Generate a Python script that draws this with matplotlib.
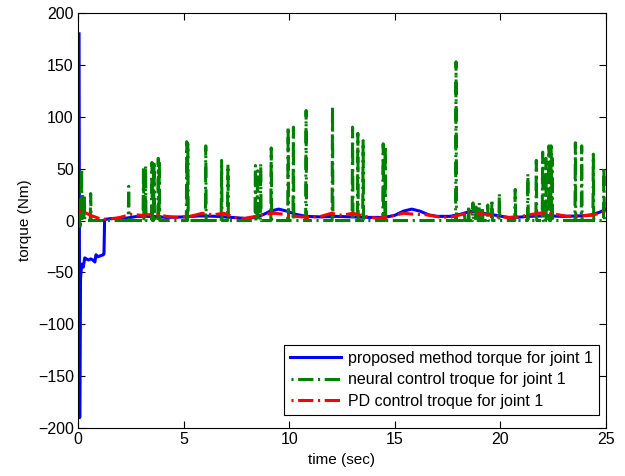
import numpy as np
import matplotlib
matplotlib.use("Agg")
import matplotlib.pyplot as plt

plt.rcParams['font.family'] = ['Liberation Sans', 'DejaVu Sans']

# proposed method torque (blue)
blue_t = [0.05, 0.08, 0.12, 0.18, 0.25, 0.32, 0.4, 0.5, 0.6, 0.7, 0.8, 0.85, 0.95,
          1.05, 1.2, 1.23, 1.26, 1.6, 2.2, 2.8, 3.5, 4.2, 5.0, 5.8, 6.6, 7.3,
          7.9, 8.4, 8.8, 9.1, 9.5, 9.9, 10.3, 10.8, 11.5, 12.2, 13.0, 13.8,
          14.5, 15.0, 15.4, 15.8, 16.2, 16.6, 17.0, 17.6, 18.1, 18.6, 19.2,
          19.8, 20.5, 21.3, 22.1, 23.0, 23.8, 24.3, 24.7, 25.0]
blue_v = [180, -190, -55, -42, -45, -36, -37, -38, -37, -38, -40, -33, -35,
          -34, -33, -32, 1, 2, 2, 4, 4, 3, 3.5, 4.5, 4, 3,
          2, 3, 6, 9, 11, 9, 6, 4, 3.5, 4, 3.5, 3,
          3, 5, 9, 11, 9, 5.5, 4, 4, 6, 9, 7,
          5, 2.5, 4, 4.5, 4, 4.5, 5.5, 8, 11]

# PD control torque (red)
pd_t = [0, 0.3, 0.6, 1.0, 1.4, 2.0, 2.5, 3.0, 3.6, 4.2, 4.7, 5.3, 5.9, 6.4,
        6.9, 7.4, 7.9, 8.4, 8.8, 9.3, 9.8, 10.3, 10.9, 11.5, 12.0, 12.5, 13.0,
        13.6, 14.2, 14.8, 15.4, 16.0, 16.5, 17.1, 17.6, 18.2, 18.7, 19.3,
        19.8, 20.4, 21.0, 21.5, 22.0, 22.6, 23.2, 23.8, 24.3, 24.7, 25.0]
pd_v = [9, 8, 5, 2, 1, 3, 6, 5, 6, 4, 3, 4, 7, 5.5,
        7, 3, 2, 4, 6, 7, 6, 4, 3, 4, 7, 5, 7,
        4, 2, 4, 7, 6, 5.5, 3.5, 3, 6, 7.5, 6,
        4, 3, 4, 6, 7.5, 6, 4, 4.5, 5, 7, 9]

# neural control torque (green): zero with short spikes
spike_t = [0.05, 0.1, 0.17, 0.22, 0.3, 0.6, 2.4, 3.1, 3.2, 3.5, 3.6, 3.8, 3.85,
           5.15, 5.2, 6.05, 6.8, 7.1, 8.4, 8.5, 8.65, 9.15, 9.95, 10.2, 10.8,
           12.05, 13.0, 13.25, 13.5, 14.45, 14.55, 17.9, 18.3, 18.5, 18.7,
           18.85, 19.0, 19.15, 19.4, 19.6, 19.95, 20.7, 21.3, 21.7, 22.0,
           22.15, 22.3, 22.4, 22.45, 23.55, 23.85, 24.4, 24.9]
spike_h = [20, -8, 50, 26, 25, 26, 33, 51, 53, 56, 57, 60, 58,
           76, 74, 72, 58, 54, 53, 48, 55, 70, 90, 90, 106,
           110, 90, 84, 77, 74, 72, 153, 8, 14, 17,
           13, 17, 12, 15, 20, 26, 30, 45, 58, 66,
           60, 72, 72, 60, 75, 72, 64, 51]

nn_t = [0.0]
nn_v = [0.0]
for ts, h in zip(spike_t, spike_h):
    nn_t += [ts - 0.02, ts, ts + 0.02]
    nn_v += [0.0, h, 0.0]
nn_t.append(25.0)
nn_v.append(0.0)

dashdot = (6.2, (5, 1.5, 0.7, 1.5))

fig = plt.figure(figsize=(6.25, 4.76), dpi=100)
ax = fig.add_axes([0.1248, 0.1008, 0.8448, 0.8718])

ax.plot(blue_t, blue_v, color='blue', lw=2.2, label='proposed method torque for joint 1')
ax.plot(nn_t, nn_v, color=(0, 0.5, 0), lw=2.2, ls=dashdot,
        label='neural control troque for joint 1')
ax.plot(pd_t, pd_v, color='red', lw=2.2, ls=dashdot,
        label='PD control troque for joint 1')

ax.set_xlim(0, 25)
ax.set_ylim(-200, 200)
ax.set_xticks(np.arange(0, 26, 5))
ax.set_yticks(np.arange(-200, 201, 50))
ax.tick_params(direction='in', top=True, right=True, labelsize=11.5, length=5, pad=3)
ax.set_xlabel('time (sec)', fontsize=11, labelpad=4)
ax.set_ylabel('torque (Nm)', fontsize=11, labelpad=4)

leg = ax.legend(loc='lower right', bbox_to_anchor=(0.987, 0.031), borderaxespad=0,
                fontsize=11.5, fancybox=False, edgecolor='black', framealpha=1,
                handlelength=3.2, handletextpad=0.4, labelspacing=0.4,
                borderpad=0.4)
leg.get_frame().set_linewidth(0.8)

fig.savefig('out.png', dpi=100)
